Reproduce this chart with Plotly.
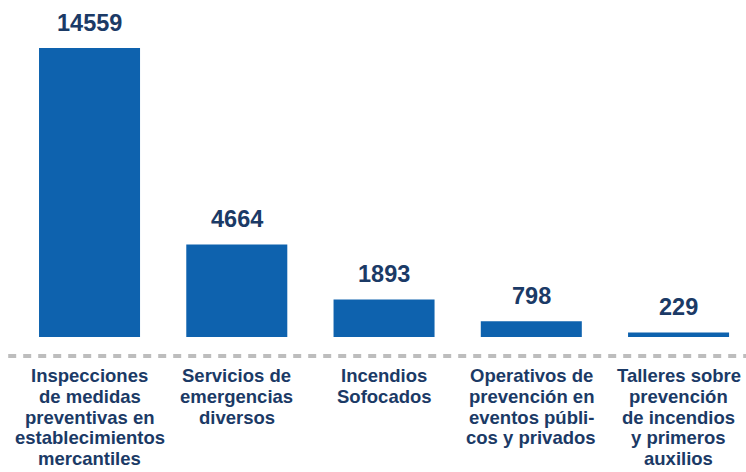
import plotly.graph_objects as go

# Data
categories = ['Inspecciones', 'Servicios', 'Incendios', 'Operativos', 'Talleres']
labels = [
    'Inspecciones<br>de medidas<br>preventivas en<br>establecimientos<br>mercantiles',
    'Servicios de<br>emergencias<br>diversos',
    'Incendios<br>Sofocados',
    'Operativos de<br>prevención en<br>eventos públi-<br>cos y privados',
    'Talleres sobre<br>prevención<br>de incendios<br>y primeros<br>auxilios',
]
values = [14559, 4664, 1893, 798, 229]

navy = '#1b3a66'
font_family = 'Arial, Liberation Sans, sans-serif'

fig = go.Figure()

fig.add_trace(go.Bar(
    x=categories,
    y=values,
    width=0.686,
    marker=dict(color='#0e62ae', line=dict(width=0)),
    showlegend=False,
    hoverinfo='skip'
))

# value labels above bars
for cat, val in zip(categories, values):
    fig.add_annotation(
        x=cat, y=val, xref='x', yref='y',
        text=f'<b>{val}</b>',
        showarrow=False, yanchor='bottom', yshift=10,
        font=dict(family=font_family, size=23.5, color=navy)
    )

# category labels below the dashed line, one annotation per line (tight leading)
for cat, lab in zip(categories, labels):
    for i, line in enumerate(lab.split('<br>')):
        fig.add_annotation(
            x=cat, y=0, xref='x', yref='paper',
            text=f'<b>{line}</b>',
            showarrow=False, yanchor='middle', yshift=-38.5 - 20.75 * i,
            font=dict(family=font_family, size=18.5, color=navy),
            align='center'
        )

# dashed separator
fig.add_shape(
    type='line', xref='paper', yref='paper',
    x0=0.011, x1=1.0, ysizemode='pixel', yanchor=0, y0=-19, y1=-19,
    line=dict(color='#bdbdbd', width=4, dash='8px,7px')
)

fig.update_layout(
    width=746, height=472,
    margin=dict(l=0, r=0, t=0, b=135),
    paper_bgcolor='white', plot_bgcolor='white',
    xaxis=dict(range=[-0.608, 4.458], showticklabels=False, showgrid=False,
               zeroline=False, showline=False, ticks=''),
    yaxis=dict(range=[0, 16977], visible=False, showgrid=False, zeroline=False),
    bargap=0.3,
)

# remove the default page margin so the figure sits at the window's corner
fig.write_html("out.html", config={'displayModeBar': False},
               post_script="document.body.style.margin='0';")
